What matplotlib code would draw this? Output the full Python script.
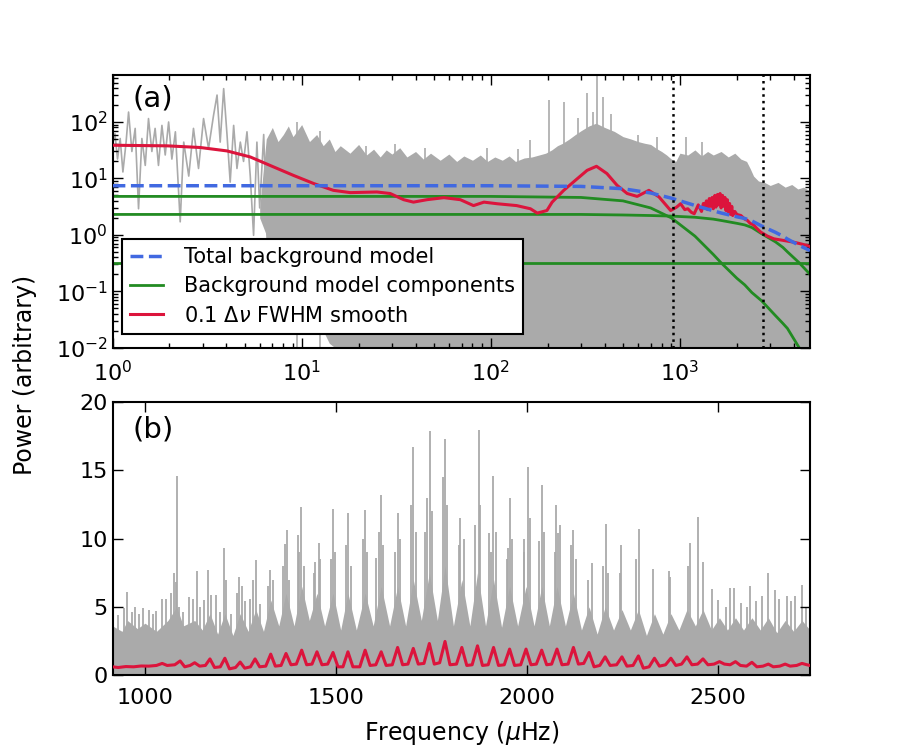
import matplotlib
matplotlib.use("Agg")
import matplotlib.pyplot as plt
import numpy as np

# ---- panel (a): full spectrum, log-log ----
# low frequency part of the raw spectrum (a single visible line)
low_f = [1.0, 1.03, 1.063, 1.098, 1.135, 1.18, 1.216, 1.266, 1.318, 1.373, 1.43, 1.49, 1.55,
         1.615, 1.68, 1.75, 1.825, 1.90, 1.98, 2.06, 2.15, 2.28, 2.38, 2.53, 2.68, 2.85, 3.03,
         3.22, 3.42, 3.57, 3.71, 3.87, 4.03, 4.19, 4.37, 4.55, 4.74, 4.93, 5.14, 5.35, 5.57, 5.8,
         6.0, 6.3, 6.6, 6.9, 7.2, 7.6]
low_p = [40, 62, 22, 51, 13, 44, 150, 30, 77, 2.9, 51, 17, 115, 30, 77, 17, 87, 26, 100, 22, 67,
         1.7, 44, 11, 77, 15, 115, 34, 130, 300, 44, 390, 60, 8.6, 87, 15, 44, 20, 67, 11, 0.98, 44,
         3.0, 60, 0.5, 45, 0.3, 30]

# envelope of the dense spectrum above ~6 muHz
env_f = [6.0, 6.5, 7, 7.5, 8, 8.5, 9, 10, 11, 12, 13, 14, 15, 16, 18, 20, 22, 24, 26, 28, 30, 33,
         36, 40, 44, 48, 54, 60, 66, 72, 80, 88, 96, 105, 115, 125, 135, 150, 165, 180, 195, 210,
         225, 240, 260, 280, 300, 330, 360, 400, 450, 500, 550, 600, 650, 700, 750, 800, 850, 900,
         950, 1000, 1100, 1200, 1300, 1400, 1500, 1650, 1800, 1950, 2100, 2250, 2350, 2450, 2600,
         2800, 3000, 3300, 3600, 3900, 4200, 4500, 4870]
env_hi = [3.0, 50, 80, 45, 60, 85, 55, 90, 45, 60, 38, 50, 30, 38, 28, 40, 26, 33, 24, 32, 27, 35,
          24, 30, 22, 28, 21, 27, 20, 25, 21, 26, 20, 24, 21, 25, 20, 23, 24, 26, 28, 32, 38, 42, 50,
          60, 70, 85, 95, 80, 68, 55, 50, 45, 42, 40, 34, 30, 26, 22, 20, 28, 26, 32, 25, 30, 26,
          30, 24, 28, 22, 20, 15, 11, 9, 8.5, 7.5, 8.5, 7, 7.8, 6.5, 7, 6]
env_lo = [2.0, 1.0, 0.6, 0.4, 0.3, 0.2, 0.15, 0.1, 0.05, 0.03, 0.02, 0.012, 0.01, 0.008, 0.005,
          0.005, 0.005, 0.005, 0.005, 0.005, 0.005, 0.005, 0.005, 0.005, 0.005, 0.005, 0.005, 0.005,
          0.005, 0.005, 0.005, 0.005, 0.005, 0.005, 0.005, 0.005, 0.005, 0.005, 0.005, 0.005, 0.005,
          0.005, 0.005, 0.005, 0.005, 0.005, 0.005, 0.005, 0.005, 0.005, 0.005, 0.005, 0.005, 0.005,
          0.005, 0.005, 0.005, 0.005, 0.005, 0.005, 0.005, 0.005, 0.005, 0.005, 0.005, 0.005, 0.005,
          0.005, 0.005, 0.005, 0.005, 0.005, 0.005, 0.005, 0.005, 0.005, 0.005, 0.005, 0.005, 0.005,
          0.005, 0.005, 0.005]

# isolated tall spikes
spk_a_f = [9.5, 12.5, 22, 31, 45, 95, 140, 162, 203, 243, 290, 323, 345, 364, 394, 430, 600,
           758, 1072, 1300]
spk_a_p = [100, 70, 38, 40, 35, 35, 33, 48, 245, 230, 120, 325, 150, 680, 280, 140, 60, 55, 55, 45]

# smoothed spectrum (0.1 dnu FWHM)
red_a_f = [1.0, 1.94, 2.91, 4.03, 5.35, 7.1, 9.06, 11.6, 14.7, 18.1, 25, 29.4, 34.6, 39, 46,
           56.5, 69, 81, 92, 108, 137, 162, 176, 198, 211, 243, 280, 323, 362, 411, 465, 526,
           594, 685, 775, 893, 960, 1008, 1060, 1100, 1150, 1190, 1250, 1300, 1330, 1350, 1380,
           1400, 1430, 1450, 1480, 1500, 1530, 1550, 1580, 1600, 1630, 1650, 1680, 1700, 1730,
           1750, 1780, 1800, 1830, 1850, 1880, 1900, 1950, 2000, 2100, 2200, 2272, 2350, 2450,
           2550, 2672, 2900, 3139, 3500, 4000, 4300, 4694, 4870]
red_a_p = [38.7, 37.8, 35.3, 30.7, 24, 16, 11.3, 8.1, 6.15, 5.6, 5.75, 5.4, 4.2, 3.8, 4.2, 4.56,
           4.2, 3.3, 3.8, 3.56, 3.3, 2.9, 2.43, 2.7, 3.8, 6.15, 9.25, 13.9, 16.4, 12.2, 7.55, 5.4,
           4.8, 6.15, 4.7, 2.7, 3.1, 3.56, 2.8, 2.9, 2.5, 2.37, 3.4, 2.6, 3.6, 3.0, 4.0, 2.8, 4.4,
           3.2, 4.6, 2.9, 5.0, 3.1, 5.2, 3.4, 5.4, 3.0, 5.0, 3.2, 4.6, 2.7, 4.2, 2.5, 3.6, 2.3,
           3.2, 2.2, 2.6, 2.3, 2.2, 1.9, 1.8, 1.6, 1.5, 1.3, 1.12, 0.95, 0.85, 0.8, 0.74, 0.7,
           0.65, 0.62]

# background model components
bg_f = [1, 100, 300, 500, 700, 900, 1200, 1500, 1650, 2000, 2200, 2400, 2700, 3200, 3500, 3700,
        4270, 4870]
harvey1 = [4.8, 4.8, 4.6, 4.0, 3.0, 2.0, 0.95, 0.45, 0.32, 0.17, 0.13, 0.095, 0.068, 0.037,
           0.027, 0.022, 0.01, 0.0065]
harvey2 = [2.3, 2.3, 2.3, 2.25, 2.2, 2.15, 2.05, 1.9, 1.8, 1.6, 1.5, 1.35, 1.05, 0.75, 0.6, 0.5,
           0.32, 0.2]
white = [0.32] * len(bg_f)
total_bg = list(np.array(harvey1) + np.array(harvey2) + np.array(white))

numax_range = [915, 2740]

# ---- panel (b): zoom on the oscillations, linear ----
base_b_f = [915, 940, 954, 980, 1000, 1030, 1060, 1083, 1100, 1130, 1150, 1170, 1190, 1209, 1230,
            1249, 1270, 1290, 1310, 1329, 1350, 1369, 1390, 1410, 1430, 1450, 1470, 1492, 1512,
            1531, 1553, 1576, 1597, 1618, 1640, 1661, 1682, 1702, 1723, 1744, 1765, 1785, 1807,
            1829, 1850, 1870, 1891, 1912, 1933, 1954, 1975, 1997, 2018, 2038, 2058, 2078, 2100,
            2121, 2142, 2162, 2183, 2204, 2226, 2248, 2270, 2291, 2312, 2333, 2355, 2376, 2397,
            2418, 2440, 2460, 2482, 2503, 2524, 2545, 2566, 2588, 2610, 2631, 2653, 2675, 2697,
            2719, 2740]
base_b_p = [3.6, 3.2, 4.0, 3.4, 3.8, 3.2, 4.0, 5.0, 3.6, 4.0, 3.3, 4.5, 3.0, 4.5, 2.9, 4.5, 3.2,
            4.8, 3.2, 5.5, 3.6, 6.0, 3.6, 6.5, 4.0, 6.0, 3.6, 6.0, 3.3, 6.0, 3.3, 6.0, 3.6, 6.5,
            3.6, 6.5, 3.6, 7.0, 4.0, 7.5, 4.0, 8.0, 3.6, 7.0, 3.6, 7.5, 3.6, 7.0, 3.5, 6.5, 3.6,
            6.5, 3.6, 6.5, 3.6, 6.5, 3.6, 6.0, 3.3, 5.0, 3.0, 5.0, 3.3, 4.8, 3.3, 4.8, 2.9, 4.5,
            3.0, 4.5, 3.3, 4.8, 3.6, 4.8, 3.3, 4.2, 3.3, 4.2, 3.3, 4.2, 3.3, 4.2, 3.1, 4.0, 3.2,
            4.0, 3.3]

spk_b_f = [930, 945, 954, 965, 975, 985, 995, 1010, 1020, 1030, 1045, 1055, 1068, 1076, 1080,
           1083, 1090, 1100, 1115, 1125, 1135, 1145, 1155, 1166, 1172, 1185, 1195, 1207, 1213,
           1225, 1240, 1247, 1253, 1262, 1275, 1283, 1291, 1300, 1322, 1327, 1335, 1362, 1366,
           1371, 1376, 1400, 1404, 1408, 1415, 1442, 1445, 1454, 1458, 1486, 1493, 1498, 1525,
           1532, 1538, 1570, 1576, 1582, 1605, 1611, 1618, 1624, 1655, 1662, 1668, 1696, 1702,
           1708, 1733, 1738, 1746, 1751, 1779, 1785, 1791, 1822, 1825, 1835, 1864, 1873, 1877,
           1901, 1906, 1910, 1918, 1948, 1951, 1954, 1960, 1991, 1992, 2002, 2008, 2032, 2039,
           2045, 2072, 2076, 2080, 2085, 2115, 2121, 2127, 2158, 2169, 2198, 2207, 2211, 2242,
           2246, 2286, 2293, 2329, 2370, 2373, 2422, 2427, 2446, 2461, 2483, 2500, 2520, 2531,
           2540, 2560, 2575, 2583, 2600, 2615, 2630, 2649, 2660, 2680, 2690, 2700, 2719, 2730]
spk_b_p = [4.4, 4.9, 6.1, 4.6, 5.0, 4.5, 4.9, 4.8, 4.5, 4.7, 5.6, 5.6, 6.0, 7.5, 6.8, 14.6,
           5.0, 4.6, 5.7, 5.6, 7.6, 5.0, 5.5, 7.7, 5.9, 5.9, 4.6, 9.3, 7.0, 4.5, 6.0, 7.2, 6.5,
           5.4, 5.6, 7.0, 8.4, 5.2, 6.5, 7.7, 7.0, 8.0, 9.6, 10.6, 7.0, 10.3, 9.0, 12.35, 8.0,
           7.5, 8.3, 9.7, 8.5, 8.5, 12.2, 9.0, 9.5, 11.9, 8.0, 10.0, 12.1, 9.0, 8.6, 10.5, 13.2,
           9.5, 9.0, 11.9, 10.0, 12.5, 16.7, 10.5, 10.5, 13.0, 17.9, 12.0, 14.5, 17.3, 12.5, 9.5,
           11.5, 10.0, 11.0, 18.0, 12.5, 10.4, 9.0, 14.6, 10.5, 8.5, 9.3, 13.0, 10.0, 10.0, 9.0,
           15.25, 11.5, 9.8, 13.9, 10.5, 9.0, 12.5, 10.4, 11.0, 9.5, 10.6, 8.5, 7.0, 8.2, 8.0,
           11.1, 7.5, 7.5, 9.5, 8.5, 10.7, 7.8, 7.6, 7.2, 8.0, 9.7, 11.6, 8.3, 6.3, 5.5, 5.0,
           6.4, 6.4, 5.3, 5.0, 6.5, 5.4, 5.8, 7.5, 6.2, 5.6, 5.8, 5.4, 5.8, 6.6, 5.0]

red_b_f = [915, 930, 950, 970, 990, 1010, 1030, 1045, 1058, 1078, 1092, 1104, 1118, 1130, 1143,
           1158, 1170, 1182, 1197, 1209, 1221, 1237, 1249, 1261, 1276, 1288, 1300, 1316, 1329,
           1341, 1356, 1369, 1382, 1396, 1410, 1423, 1437, 1450, 1463, 1478, 1492, 1505, 1518,
           1531, 1544, 1562, 1576, 1589, 1604, 1618, 1631, 1647, 1661, 1674, 1688, 1702, 1715,
           1730, 1744, 1757, 1771, 1785, 1798, 1815, 1829, 1842, 1856, 1870, 1883, 1898, 1912,
           1925, 1940, 1954, 1967, 1983, 1997, 2010, 2024, 2038, 2051, 2064, 2078, 2091, 2107,
           2121, 2134, 2148, 2162, 2175, 2190, 2204, 2217, 2234, 2248, 2261, 2277, 2291, 2304,
           2319, 2333, 2346, 2362, 2376, 2389, 2404, 2418, 2431, 2446, 2460, 2473, 2489, 2503,
           2516, 2531, 2545, 2558, 2574, 2588, 2601, 2617, 2631, 2644, 2661, 2675, 2688, 2705,
           2719, 2732, 2740]
red_b_p = [0.6, 0.55, 0.62, 0.6, 0.66, 0.65, 0.7, 0.85, 0.7, 0.75, 1.03, 0.6, 0.7, 0.9, 0.65,
           0.7, 1.18, 0.55, 0.6, 1.23, 0.45, 0.55, 0.95, 0.5, 0.6, 1.18, 0.6, 0.65, 1.53, 0.65,
           0.7, 1.58, 0.75, 0.8, 1.82, 0.75, 0.8, 1.7, 0.75, 0.8, 1.65, 0.6, 0.6, 1.7, 0.6, 0.6,
           1.82, 0.7, 0.75, 1.7, 0.7, 0.75, 2.02, 0.75, 0.8, 1.95, 0.8, 0.85, 2.31, 0.8, 0.9,
           2.46, 0.75, 0.8, 2.02, 0.7, 0.75, 2.14, 0.7, 0.75, 2.02, 0.7, 0.75, 1.9, 0.7, 0.75,
           1.9, 0.75, 0.8, 1.82, 0.75, 0.8, 1.9, 0.75, 0.8, 2.02, 0.8, 0.85, 1.65, 0.6, 0.7, 1.33,
           0.7, 0.75, 1.33, 0.65, 0.7, 1.4, 0.5, 0.6, 1.23, 0.65, 0.75, 1.23, 0.7, 0.8, 1.33,
           0.75, 0.8, 1.18, 0.75, 0.8, 0.98, 0.8, 0.75, 0.98, 0.7, 0.65, 0.93, 0.6, 0.65, 0.8,
           0.6, 0.65, 0.8, 0.65, 0.7, 0.85, 0.75, 0.7]

gray = '#aaaaaa'
green = '#228b22'
blue = '#4169e1'
red = '#dc143c'

plt.rcParams['font.family'] = ['DejaVu Sans']

fig, (ax1, ax2) = plt.subplots(2, 1, figsize=(9, 7.5), dpi=100)
fig.subplots_adjust(left=0.125, right=0.9, bottom=0.1, top=0.9, hspace=0.2)

# panel (a)
ax1.plot(low_f, low_p, color=gray, lw=1.2, zorder=1)
ax1.fill_between(env_f, env_lo, env_hi, color=gray, lw=0, zorder=1)
ax1.vlines(spk_a_f, 0.005, spk_a_p, color=gray, lw=1.2, zorder=1)
for comp in (harvey1, harvey2, white):
    ax1.plot(bg_f, comp, color=green, lw=2, zorder=2)
ax1.plot(red_a_f, red_a_p, color=red, lw=2.2, zorder=3)
ax1.plot(bg_f, total_bg, color=blue, lw=2.5, ls='--', zorder=4)
for fx in numax_range:
    ax1.axvline(fx, color='k', ls=':', lw=1.8, zorder=5)

ax1.set_xscale('log')
ax1.set_yscale('log')
ax1.set_xlim(1, 4870)
ax1.set_ylim(0.01, 680)
ax1.text(0.028, 0.915, '(a)', transform=ax1.transAxes, fontsize=21, va='center')

h1, = ax1.plot([], [], color=blue, lw=2.5, ls='--')
h2, = ax1.plot([], [], color=green, lw=2)
h3, = ax1.plot([], [], color=red, lw=2.2)
leg = ax1.legend([h1, h2, h3], ['Total background model', 'Background model components',
                                r'0.1 $\Delta\nu$ FWHM smooth'],
                 loc='lower left', bbox_to_anchor=(0.013, 0.05), borderaxespad=0,
                 fontsize=15, fancybox=False, framealpha=1, handlelength=1.6,
                 handletextpad=1.0, labelspacing=0.45)
leg.get_frame().set_edgecolor('k')
leg.get_frame().set_linewidth(1.5)
leg.set_zorder(10)

# panel (b)
ax2.fill_between(base_b_f, 0, base_b_p, color=gray, lw=0, zorder=1)
ax2.vlines(spk_b_f, 0, spk_b_p, color=gray, lw=1.3, zorder=1)
ax2.plot(red_b_f, red_b_p, color=red, lw=2.2, zorder=3)
ax2.set_xlim(numax_range)
ax2.set_ylim(0, 20)
ax2.set_xticks([1000, 1500, 2000, 2500])
ax2.set_yticks([0, 5, 10, 15, 20])
ax2.text(0.028, 0.9, '(b)', transform=ax2.transAxes, fontsize=21, va='center')
ax2.set_xlabel(r'Frequency ($\mu$Hz)', fontsize=17, labelpad=8)

for ax in (ax1, ax2):
    ax.tick_params(which='both', direction='in', top=True, right=True, labelsize=16)
    ax.tick_params(which='major', length=7, width=1)
    ax.tick_params(which='minor', length=3.5, width=1)
    ax.tick_params(axis='x', pad=9)
    for s in ax.spines.values():
        s.set_linewidth(1.5)

fig.text(0.028, 0.5, 'Power (arbitrary)', rotation=90, va='center', ha='center', fontsize=17)

fig.savefig('out.png', dpi=100)
